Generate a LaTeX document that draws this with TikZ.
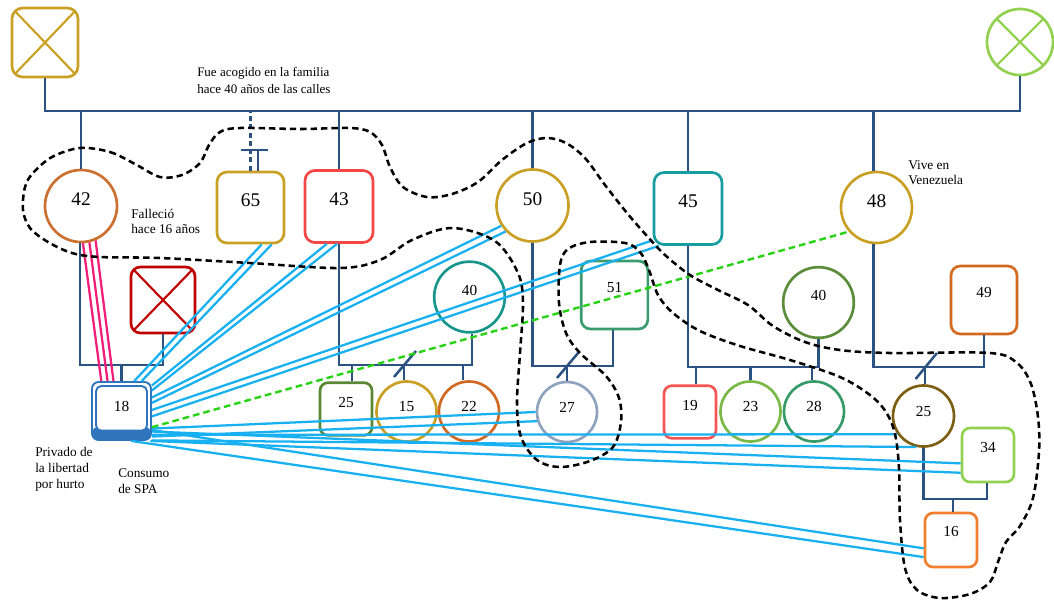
\documentclass[tikz,border=0pt]{standalone}
\usepackage{fontspec}
\setmainfont{Liberation Serif}
\usetikzlibrary{calc}
\definecolor{gold}{RGB}{201,160,36}
\definecolor{ltgreen}{RGB}{146,208,80}
\definecolor{c42}{RGB}{204,112,50}
\definecolor{c43}{RGB}{245,70,70}
\definecolor{cxred}{RGB}{192,0,0}
\definecolor{c45}{RGB}{23,157,160}
\definecolor{c40t}{RGB}{25,150,140}
\definecolor{c51}{RGB}{58,155,110}
\definecolor{c25b}{RGB}{90,135,50}
\definecolor{c22}{RGB}{210,105,35}
\definecolor{c27}{RGB}{143,162,190}
\definecolor{c19}{RGB}{245,85,85}
\definecolor{c23}{RGB}{122,184,72}
\definecolor{c28}{RGB}{55,155,105}
\definecolor{c40g}{RGB}{90,140,58}
\definecolor{c49}{RGB}{212,105,30}
\definecolor{c25c}{RGB}{125,95,20}
\definecolor{c16}{RGB}{240,128,48}
\definecolor{famc}{RGB}{44,82,130}
\definecolor{c18}{RGB}{46,117,190}
\definecolor{lblue}{RGB}{24,176,240}
\definecolor{lgreen}{RGB}{40,210,20}
\definecolor{pinkc}{RGB}{240,30,120}
\begin{document}
\begin{tikzpicture}[x=0.75pt,y=-0.75pt,
  nd/.style={draw, line width=2pt, inner sep=0pt},
  bigf/.style={font=\fontsize{14.5}{14.5}\selectfont},
  smf/.style={font=\fontsize{11.5}{11.5}\selectfont},
  bigbox/.style={nd, rectangle, rounded corners=7.5pt, minimum width=51pt, minimum height=54pt, bigf, text depth=10.5pt},
  bigcirc/.style={nd, circle, minimum size=54pt, bigf, text depth=10pt},
  medbox/.style={nd, rectangle, rounded corners=7pt, minimum width=50pt, minimum height=51pt, smf, text depth=12pt},
  medcirc/.style={nd, circle, minimum size=53pt, smf, text depth=10pt},
  smbox/.style={nd, rectangle, rounded corners=6pt, minimum width=39pt, minimum height=39.5pt, smf, text depth=10pt},
  smcirc/.style={nd, circle, minimum size=45pt, smf, text depth=7pt},
  xmark/.style={path picture={\draw[line width=1.6pt, #1]
      (path picture bounding box.north west) -- (path picture bounding box.south east)
      (path picture bounding box.north east) -- (path picture bounding box.south west);}},
  fam/.style={draw=famc, line width=1.9pt},
  bl/.style={draw=lblue, line width=1.7pt},
  pk/.style={draw=pinkc, line width=1.7pt},
  gd/.style={draw=lgreen, line width=1.8pt, dash pattern=on 5pt off 3pt},
  loopline/.style={draw=black, line width=1.9pt, dash pattern=on 4.8pt off 3pt},
  lbl/.style={inner sep=0pt, align=left, anchor=north west}
]
\useasboundingbox (0,0) rectangle (1054,601);

% ---------- nodes ----------
\node[nd, rectangle, rounded corners=8pt, draw=gold, minimum width=49.5pt, minimum height=51.75pt, xmark=gold] (ntl) at (45,42.5) {};
\node[nd, circle, draw=ltgreen, minimum size=49.5pt, xmark=ltgreen] (ntr) at (1020,42) {};

\node[bigcirc, draw=c42] (n42) at (81,206) {42};
\node[bigbox, draw=gold, minimum width=50.25pt, minimum height=53.25pt] (n65) at (250.5,207.5) {65};
\node[bigbox, draw=c43] (n43) at (339,206.5) {43};
\node[bigcirc, draw=gold] (n50) at (532.5,205.5) {50};
\node[bigbox, draw=c45] (n45) at (688,208.5) {45};
\node[bigcirc, draw=gold, minimum size=53.25pt] (n48) at (876.5,207.5) {48};

\node[nd, rectangle, rounded corners=7pt, draw=cxred, minimum width=48pt, minimum height=49.5pt, xmark=cxred] (nX) at (163,300) {};
\node[medcirc, draw=c40t] (n40t) at (469.5,297) {40};
\node[medbox, draw=c51] (n51) at (614.5,295) {51};
\node[medcirc, draw=c40g] (n40g) at (818.5,302.5) {40};
\node[medbox, draw=c49, minimum width=49.5pt] (n49) at (984,300) {49};

\node[nd, rectangle, rounded corners=5pt, draw=c18, line width=1.4pt, fill=white,
      minimum width=44.25pt, minimum height=43.5pt, smf, text depth=7.5pt,
      path picture={
        \fill[c18] (path picture bounding box.south west) rectangle ([yshift=10pt]path picture bounding box.south east);
        \draw[c18, line width=1.4pt, fill=white, rounded corners=4pt]
          ([shift={(3pt,-3pt)}]path picture bounding box.north west) rectangle
          ([shift={(-3pt,7pt)}]path picture bounding box.south east);
      }] (n18) at (121.5,411) {18};

\node[smbox, draw=c25b] (n25b) at (346,409) {25};
\node[smcirc, draw=gold] (n15) at (406.5,411.5) {15};
\node[smcirc, draw=c22] (n22) at (469,411.5) {22};
\node[smcirc, draw=c27] (n27) at (567,412) {27};
\node[smbox, draw=c19] (n19) at (690,412) {19};
\node[smcirc, draw=c23] (n23) at (750.5,411.5) {23};
\node[smcirc, draw=c28] (n28) at (814,411.5) {28};
\node[smcirc, draw=c25c, minimum size=45.75pt] (n25c) at (923.5,416) {25};
\node[smbox, draw=ltgreen, minimum height=40.5pt, text depth=12pt] (n34) at (988,455) {34};
\node[smbox, draw=c16, minimum height=40.5pt, text depth=13pt] (n16) at (951,540) {16};

% ---------- labels ----------
\node[lbl, font=\fontsize{9.75}{12.75}\selectfont] (lAcog) at (197,67) {Fue acogido en la familia\\hace 40 años de las calles};
\node[lbl, font=\fontsize{10}{11.25}\selectfont] (lFall) at (131,209) {Falleció\\hace 16 años};
\node[lbl, font=\fontsize{10}{11.25}\selectfont] (lVive) at (908,160) {Vive en\\Venezuela};
\node[lbl, font=\fontsize{10}{12}\selectfont] (lPriv) at (35,447) {Privado de\\la libertad\\por hurto};
\node[lbl, font=\fontsize{10}{12}\selectfont] (lCons) at (118,468) {Consumo\\de SPA};

% ---------- family lines ----------
\coordinate (topy) at (0,111);
\draw[fam] (ntl.south) -- (ntl.south |- topy) -- (ntr.south |- topy) -- (ntr.south);
\draw[fam] (n42.north) -- (n42.north |- topy);
\draw[fam] (n43.north) -- (n43.north |- topy);
\draw[fam] (n50.north) -- (n50.north |- topy);
\draw[fam] (n45.north) -- (n45.north |- topy);
\draw[fam] ([xshift=-2.4pt]n48.north) -- ([xshift=-2.4pt]n48.north |- topy);
% adopted 65
\coordinate (teey) at (0,150);
\draw[fam, dash pattern=on 3.8pt off 2.4pt] (n65.north) -- (n65.north |- topy);
\coordinate (tee) at (n65.north |- teey);
\draw[fam] ([xshift=-7.1pt]tee) -- ([xshift=13pt]tee);
\draw[fam] ([xshift=5.6pt]tee) -- ([xshift=5.6pt]n65.north);

% 42 + X -> 18
\coordinate (f42) at (0,365);
\draw[fam] ([xshift=-0.8pt]n42.south) -- ([xshift=-0.8pt]n42.south |- f42) -| (nX.south);
\draw[fam] (n18.north) -- (n18.north |- f42);

% 43 + 40 -> 25,15,22
\coordinate (f43) at (0,365);
\draw[fam] (n43.south) -- (n43.south |- f43) -| ([xshift=1.8pt]n40t.south);
\coordinate (j43) at ([xshift=-1.9pt]n15.north |- f43);
\draw[fam] ([xshift=4.5pt]n25b.north) -- ([xshift=4.5pt]n25b.north |- f43);
\draw[fam] ([xshift=-1.9pt]n15.north) -- (j43);
\draw[fam] ([xshift=-4.5pt]n22.north) -- ([xshift=-4.5pt]n22.north |- f43);
\draw[fam] ([shift={(-7.5pt,-9pt)}]j43) -- ([shift={(9pt,10.5pt)}]j43);

% 50 + 51 -> 27
\coordinate (f50) at (0,366);
\draw[fam] (n50.south) -- (n50.south |- f50) -| ([xshift=-1.1pt]n51.south);
\coordinate (j50) at (n27.north |- f50);
\draw[fam] (n27.north) -- (j50);
\draw[fam] ([shift={(-7.5pt,-9pt)}]j50) -- ([shift={(8.5pt,10pt)}]j50);

% 45 + 40 -> 19,23,28
\coordinate (f45) at (0,367);
\draw[fam] (n45.south) -- (n45.south |- f45) -| (n40g.south);
\draw[fam] ([xshift=4.5pt]n19.north) -- ([xshift=4.5pt]n19.north |- f45);
\draw[fam] (n23.north) -- (n23.north |- f45);
\draw[fam] ([xshift=-1.5pt]n28.north) -- ([xshift=-1.5pt]n28.north |- f45);

% 48 + 49 -> 25
\coordinate (f48) at (0,367);
\draw[fam] ([xshift=-2.4pt]n48.south) -- ([xshift=-2.4pt]n48.south |- f48) -| (n49.south);
\coordinate (j48) at ([xshift=1.1pt]n25c.north |- f48);
\draw[fam] ([xshift=1.1pt]n25c.north) -- (j48);
\draw[fam] ([shift={(-7pt,-9pt)}]j48) -- ([shift={(9pt,10.5pt)}]j48);

% 25 + 34 -> 16
\coordinate (f25) at (0,499);
\draw[fam] (n25c.south) -- (n25c.south |- f25) -| ([xshift=-0.8pt]n34.south);
\draw[fam] ([xshift=1.5pt]n16.north) -- ([xshift=1.5pt]n16.north |- f25);

% ---------- relations ----------
\draw[pk] (n42.-87) -- (n18.124);
\draw[pk] (n42.-77) -- (n18.115);
\draw[pk] (n42.-67) -- (n18.105);

\draw[bl] (n18.67) -- (n65.-73);
\draw[bl] (n18.56) -- (n65.-60);
\draw[bl] (n18.40) -- (n43.-108);
\draw[bl] (n18.34) -- (n43.-93);
\draw[bl] (n18.24) -- (n50.213);
\draw[bl] (n18.15) -- (n50.224);
\draw[bl] (n18.2) -- (n45.222);
\draw[bl] (n18.-10) -- (n45.232);
\draw[bl] (n18.-30) -- (n27.180);
\draw[bl] (n18.-40) -- (n27.197);
\draw[bl] (n18.-38) -- (n25c.215);
\draw[bl] (n18.-44) -- (n25c.257);
\draw[bl] (n18.-34) -- (n34.197);
\draw[bl] (n18.-46) -- (n34.213);
\draw[bl] (n18.-32) -- (n16.197);
\draw[bl] (n18.-72) -- (n16.212);
\draw[gd] (n18.-28) -- (n48.221);

% ---------- dashed boundary ----------
\draw[loopline] plot[smooth cycle, tension=0.55] coordinates {
(80,148) (110,152) (135,164) (160,177) (182,175) (200,163) (209,145) (220,132) (240,128)
(300,129) (350,128) (370,132) (382,145) (390,167) (403,187) (427,197) (452,194) (478,182)
(502,160) (527,143) (547,138) (566,143) (585,158) (605,185) (627,213) (647,236) (665,255)
(690,275) (718,290) (748,305) (773,326) (805,342) (840,350) (890,353) (990,353) (1017,363)
(1031,384) (1038,417) (1039,452) (1033,498) (1020,526) (1006,542) (998,562) (990,582)
(970,594) (940,598) (917,590) (905,568) (900,520) (899,468) (895,434) (886,412) (870,395)
(840,377) (790,360) (740,346) (700,331) (673,313) (658,295) (649,270) (640,252) (625,243)
(590,242) (568,249) (560,265) (559,303) (566,333) (580,353) (606,376) (619,398) (621,422)
(613,447) (590,461) (560,467) (537,460) (521,437) (517,403) (520,353) (523,303) (518,273)
(495,241) (452,228) (412,240) (380,260) (340,268) (250,263) (160,258) (100,257) (72,253)
(48,242) (30,228) (23,210) (25,187) (33,173) (52,157)};
\end{tikzpicture}
\end{document}
